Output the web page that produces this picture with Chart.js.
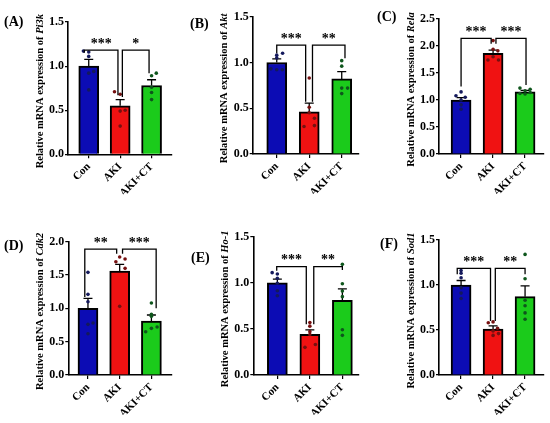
<!DOCTYPE html>
<html lang="en">
<head>
<meta charset="UTF-8">
<title>Relative mRNA expression</title>
<script src="https://cdn.jsdelivr.net/npm/chart.js@4"></script>
<style>
  html, body { margin: 0; padding: 0; background: #ffffff; }
  .stage { position: relative; width: 550px; height: 423px; overflow: hidden; }
  .stage canvas { position: absolute; left: 0; top: 0; }
</style>
</head>
<body>
<div class="stage" id="stage"></div>
<script>
const categories = ['Con', 'AKI', 'AKI+CT'];

// (A) Pi3k
const pi3kMean = [1.00, 0.55, 0.78];
const pi3kSem = [0.077, 0.07, 0.065];
const pi3kCon = [1.17, 1.16, 1.11, 0.94, 0.92, 0.73];
const pi3kAki = [0.71, 0.68, 0.50, 0.49, 0.32];
const pi3kCt = [0.92, 0.89, 0.76, 0.70, 0.62];
const pi3kSig = ['***', '*'];

// (B) Akt
const aktMean = [1.00, 0.46, 0.82];
const aktSem = [0.04, 0.095, 0.08];
const aktCon = [1.10, 1.08, 1.05, 0.93, 0.92, 0.92];
const aktAki = [0.83, 0.51, 0.45, 0.39, 0.31, 0.30];
const aktCt = [1.02, 0.96, 0.72, 0.72, 0.66];
const aktSig = ['***', '**'];

// (C) Rela
const relaMean = [1.00, 1.865, 1.15];
const relaSem = [0.045, 0.06, 0.03];
const relaCon = [1.15, 1.08, 1.05, 1.00, 0.91, 0.83];
const relaAki = [2.10, 1.94, 1.91, 1.80, 1.74, 1.74];
const relaCt = [1.22, 1.20, 1.17, 1.14, 1.12, 1.11];
const relaSig = ['***', '***'];

// (D) Cdk2
const cdk2Mean = [1.00, 1.56, 0.81];
const cdk2Sem = [0.15, 0.10, 0.09];
const cdk2Con = [1.54, 1.21, 1.10, 0.78, 0.76, 0.62];
const cdk2Aki = [1.77, 1.74, 1.70, 1.60, 1.03];
const cdk2Ct = [1.08, 0.91, 0.88, 0.72, 0.70, 0.65];
const cdk2Sig = ['**', '***'];

// (E) Ho-1
const ho1Mean = [1.00, 0.44, 0.81];
const ho1Sem = [0.04, 0.05, 0.125];
const ho1Con = [1.11, 1.095, 1.05, 0.995, 0.914, 0.86];
const ho1Aki = [0.57, 0.53, 0.47, 0.44, 0.33, 0.30];
const ho1Ct = [1.20, 0.99, 0.91, 0.85, 0.49, 0.43];
const ho1Sig = ['***', '**'];

// (F) Sod1
const sod1Mean = [1.00, 0.51, 0.87];
const sod1Sem = [0.05, 0.035, 0.12];
const sod1Con = [1.16, 1.13, 1.08, 0.97, 0.91, 0.85];
const sod1Aki = [0.59, 0.58, 0.52, 0.49, 0.46, 0.44];
const sod1Ct = [1.34, 1.07, 0.83, 0.77, 0.69, 0.62];
const sod1Sig = ['***', '**'];

const FONT = "'Liberation Serif', 'Times New Roman', serif";
const barColors = ['#0c0cb4', '#f01212', '#1bcb1b'];
const dotColors = ['#14195c', '#761010', '#0e561c'];
const Y_W = 30;
const X_H = 40;

// layout per panel: plot box in page pixels, x range, bracket geometry [x1, x2, top, leftEnd, rightEnd]
const panels = [
    { key: 'A', gene: 'Pi3k', yMax: 1.5, mean: pi3kMean, sem: pi3kSem, dots: [pi3kCon, pi3kAki, pi3kCt], sig: pi3kSig,
      box: { left: 68, right: 172, top: 22, bottom: 154.3 }, xRange: [-0.66, 2.65], tag: [4, 22],
      jitter: [[-0.17, 0, 0, 0.16, 0, 0], [-0.18, 0, 0.16, 0, 0], [0.15, 0, 0, 0, 0]],
      brackets: [[-0.14, 0.93, 1.18, 1.15, 0.67], [1.07, 1.92, 1.18, 0.65, 0.92]] },
    { key: 'B', gene: 'Akt', yMax: 1.5, mean: aktMean, sem: aktSem, dots: [aktCon, aktAki, aktCt], sig: aktSig,
      box: { left: 252.7, right: 358.3, top: 16.7, bottom: 154 }, xRange: [-0.74, 2.51], tag: [190, 24],
      jitter: [[0.18, 0, 0, -0.18, 0, 0.17], [0, 0, 0, 0.16, 0.16, -0.16], [0, 0, 0, 0.18, 0]],
      brackets: [[0, 0.89, 1.19, 1.10, 0.57], [1.1, 2.1, 1.19, 0.57, 1.045]] },
    { key: 'C', gene: 'Rela', yMax: 2.5, mean: relaMean, sem: relaSem, dots: [relaCon, relaAki, relaCt], sig: relaSig,
      box: { left: 439, right: 543.3, top: 19, bottom: 154 }, xRange: [-0.69, 2.57], tag: [377, 17],
      jitter: [[0, -0.16, 0.13, 0, 0, 0], [0, 0, 0.15, 0, -0.16, 0.17], [-0.16, 0.16, 0, 0.16, -0.16, 0]],
      brackets: [[0, 0.94, 2.14, 1.25, 2.04], [1.09, 2.03, 2.14, 2.04, 1.28]] },
    { key: 'D', gene: 'Cdk2', yMax: 2.0, mean: cdk2Mean, sem: cdk2Sem, dots: [cdk2Con, cdk2Aki, cdk2Ct], sig: cdk2Sig,
      box: { left: 68.3, right: 171.7, top: 241.7, bottom: 375 }, xRange: [-0.62, 2.64], tag: [4, 246],
      jitter: [[0, 0, 0, 0.16, 0, 0], [0, 0.17, -0.12, 0.17, 0], [0, 0, 0, 0.18, 0, -0.18]],
      brackets: [[-0.1, 0.905, 1.89, 1.17, 1.82], [1.09, 2.15, 1.89, 1.82, 1.0]] },
    { key: 'E', gene: 'Ho-1', yMax: 1.5, mean: ho1Mean, sem: ho1Sem, dots: [ho1Con, ho1Aki, ho1Ct], sig: ho1Sig,
      box: { left: 253.3, right: 358.3, top: 236.7, bottom: 375 }, xRange: [-0.74, 2.49], tag: [191, 258],
      jitter: [[-0.16, 0, 0, 0, 0, 0], [0, 0, 0, 0, 0.17, -0.15], [0, 0, 0, 0, 0, 0]],
      brackets: [[-0.02, 0.89, 1.175, 1.13, 0.55], [1.12, 2.0, 1.175, 0.55, 1.14]] },
    { key: 'F', gene: 'Sod1', yMax: 1.5, mean: sod1Mean, sem: sod1Sem, dots: [sod1Con, sod1Aki, sod1Ct], sig: sod1Sig,
      box: { left: 439, right: 543.3, top: 240, bottom: 375 }, xRange: [-0.69, 2.57], tag: [380, 244],
      jitter: [[0, 0, 0, 0, 0, 0], [0, -0.15, 0.14, 0, 0.17, 0], [0, 0, 0, 0, 0, 0]],
      brackets: [[-0.12, 0.92, 1.185, 1.12, 0.60], [1.07, 2.0, 1.185, 0.60, 1.12]] }
];

function deco(p) {
    return {
        id: 'deco' + p.key,
        afterDatasetDraw(chart, args) {
            if (args.meta.type !== 'bar') return;
            const { ctx, scales: { x, y } } = chart;
            ctx.save();
            ctx.strokeStyle = '#000';
            ctx.lineWidth = 1.3;
            p.mean.forEach((m, i) => {
                const cx = x.getPixelForValue(i);
                const y0 = y.getPixelForValue(m);
                const y1 = y.getPixelForValue(m + p.sem[i]);
                ctx.beginPath();
                ctx.moveTo(cx, y0);
                ctx.lineTo(cx, y1);
                ctx.moveTo(cx - 4.5, y1);
                ctx.lineTo(cx + 4.5, y1);
                ctx.stroke();
            });
            ctx.restore();
        },
        afterDraw(chart) {
            const { ctx, scales: { x, y } } = chart;
            ctx.save();
            ctx.strokeStyle = '#000';
            ctx.fillStyle = '#000';
            ctx.lineWidth = 1.3;
            // significance brackets
            p.brackets.forEach((b, i) => {
                const x1 = x.getPixelForValue(b[0]);
                const x2 = x.getPixelForValue(b[1]);
                const top = y.getPixelForValue(b[2]);
                ctx.beginPath();
                ctx.moveTo(x1, y.getPixelForValue(b[3]));
                ctx.lineTo(x1, top);
                ctx.lineTo(x2, top);
                ctx.lineTo(x2, y.getPixelForValue(b[4]));
                ctx.stroke();
                ctx.font = 'bold 14px ' + FONT;
                ctx.textAlign = 'center';
                ctx.textBaseline = 'alphabetic';
                ctx.fillText(p.sig[i], (x1 + x2) / 2, top - 2.5);
            });
            // panel tag
            ctx.font = 'bold 14px ' + FONT;
            ctx.textAlign = 'left';
            ctx.textBaseline = 'middle';
            ctx.fillText('(' + p.key + ')', p.tag[0], p.tag[1]);
            // y axis title with italic gene name
            const lead = 'Relative mRNA expression of ';
            const fLead = 'bold 10.5px ' + FONT;
            const fGene = 'italic bold 10.5px ' + FONT;
            ctx.font = fLead;
            const w1 = ctx.measureText(lead).width;
            ctx.font = fGene;
            const w2 = ctx.measureText(p.gene).width;
            const cy = (chart.chartArea.top + chart.chartArea.bottom) / 2 + 3;
            ctx.translate(chart.chartArea.left - 28, cy);
            ctx.rotate(-Math.PI / 2);
            ctx.textAlign = 'left';
            ctx.font = fLead;
            ctx.fillText(lead, -(w1 + w2) / 2, 0);
            ctx.font = fGene;
            ctx.fillText(p.gene, -(w1 + w2) / 2 + w1, 0);
            ctx.restore();
        }
    };
}

function buildChart(p) {
    const canvas = document.createElement('canvas');
    canvas.width = 550;
    canvas.height = 423;
    document.getElementById('stage').appendChild(canvas);

    const barData = p.mean.map((v, i) => ({ x: i, y: v }));
    const dotData = [];
    const dotFill = [];
    p.dots.forEach((group, g) => {
        group.forEach((v, k) => {
            dotData.push({ x: g + p.jitter[g][k], y: v });
            dotFill.push(dotColors[g]);
        });
    });

    new Chart(canvas, {
        type: 'bar',
        data: {
            datasets: [
                {
                    type: 'scatter',
                    data: dotData,
                    pointRadius: 1.8,
                    pointBorderWidth: 0,
                    pointBackgroundColor: dotFill,
                    order: 0
                },
                {
                    type: 'bar',
                    data: barData,
                    backgroundColor: barColors,
                    borderColor: '#000',
                    borderWidth: 2,
                    barThickness: 20,
                    order: 1
                }
            ]
        },
        options: {
            responsive: false,
            animation: false,
            events: [],
            layout: {
                padding: {
                    left: p.box.left - Y_W,
                    right: 550 - p.box.right,
                    top: p.box.top,
                    bottom: 423 - p.box.bottom - X_H
                }
            },
            plugins: {
                legend: { display: false },
                tooltip: { enabled: false }
            },
            scales: {
                x: {
                    type: 'linear',
                    min: p.xRange[0],
                    max: p.xRange[1],
                    bounds: 'data',
                    offset: false,
                    afterBuildTicks: s => { s.ticks = categories.map((c, i) => ({ value: i })); },
                    afterFit: s => { s.height = X_H; },
                    grid: { drawOnChartArea: false, offset: false, color: '#000', lineWidth: 1.2, tickLength: 4 },
                    border: { color: '#000', width: 1.6 },
                    ticks: {
                        callback: v => categories[v],
                        color: '#000',
                        font: { family: FONT, size: 11, weight: 'bold' },
                        minRotation: 45,
                        maxRotation: 45,
                        autoSkip: false,
                        padding: 2
                    }
                },
                y: {
                    min: 0,
                    max: p.yMax,
                    afterFit: s => { s.width = Y_W; },
                    grid: { drawOnChartArea: false, color: '#000', lineWidth: 1.2, tickLength: 3 },
                    border: { color: '#000', width: 1.6 },
                    ticks: {
                        stepSize: 0.5,
                        callback: v => v.toFixed(1),
                        color: '#000',
                        font: { family: FONT, size: 12, weight: 'bold' },
                        padding: 1
                    }
                }
            }
        },
        plugins: [deco(p)]
    });
}

panels.forEach(buildChart);
</script>
</body>
</html>
